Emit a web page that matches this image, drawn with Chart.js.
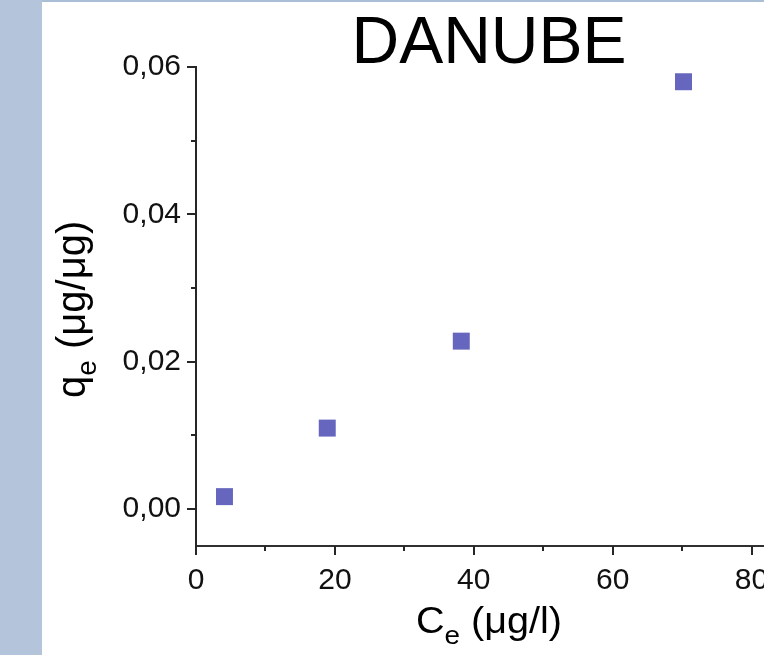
<!DOCTYPE html>
<html>
<head>
<meta charset="utf-8">
<script src="https://cdn.jsdelivr.net/npm/chart.js@4.4.0/dist/chart.umd.min.js"></script>
<style>
    html, body { margin: 0; padding: 0; background: #fff; width: 764px; height: 655px; overflow: hidden; }
    #franja { position: absolute; left: 0; top: 0; width: 42px; height: 655px; background: #b4c4da; }
    #lineaSuperior { position: absolute; left: 42px; top: 0; width: 722px; height: 2px; background: #aabed6; }
    canvas { position: absolute; left: 0; top: 0; }
</style>
</head>
<body>
<div id="franja"></div>
<div id="lineaSuperior"></div>
<canvas id="danubeChart" width="838" height="655"></canvas>
<script>
// Datos (Ce en µg/l, qe en µg/µg)
const concentraciones = [4.1, 18.9, 38.2, 70.2];
const adsorcion = [0.0017, 0.0110, 0.0228, 0.0580];

// Etiquetas visibles de los ejes
const etiquetasX = [0, 20, 40, 60, 80];
const etiquetasY = [0.00, 0.02, 0.04, 0.06];

const tituloGrafico = 'DANUBE';
const fuente = "'Liberation Sans', Arial, sans-serif";

const esEtiqueta = (lista, v) => lista.some(t => Math.abs(t - v) < 1e-9);

// Dibuja texto con un estiramiento horizontal opcional
function textoEstirado(ctx, texto, x, y, tam, sx, align) {
    ctx.save();
    ctx.font = `${tam}px ${fuente}`;
    ctx.textAlign = align || 'left';
    ctx.textBaseline = 'alphabetic';
    ctx.translate(x, y);
    ctx.scale(sx, 1);
    ctx.fillText(texto, 0, 0);
    const ancho = ctx.measureText(texto).width * sx;
    ctx.restore();
    return ancho;
}

// Marcas de los ejes (mayores y menores) hacia afuera
const marcasEjes = {
    id: 'marcasEjes',
    afterDraw(chart) {
        const { ctx, chartArea, scales: { x, y } } = chart;
        ctx.save();
        ctx.strokeStyle = '#262626';
        ctx.lineWidth = 2;
        x.ticks.forEach(t => {
            const paso = t.value / 10;
            if (Math.abs(paso - Math.round(paso)) > 1e-6) return;
            const mayor = Math.round(paso) % 2 === 0;
            const px = Math.round(x.getPixelForValue(t.value));
            ctx.beginPath();
            ctx.moveTo(px, chartArea.bottom);
            ctx.lineTo(px, chartArea.bottom + (mayor ? 9 : 5));
            ctx.stroke();
        });
        y.ticks.forEach(t => {
            const paso = t.value / 0.01;
            if (Math.abs(paso - Math.round(paso)) > 1e-6) return;
            const mayor = Math.round(paso) % 2 === 0;
            const py = Math.round(y.getPixelForValue(t.value));
            ctx.beginPath();
            ctx.moveTo(chartArea.left, py);
            ctx.lineTo(chartArea.left - (mayor ? 9 : 5), py);
            ctx.stroke();
        });
        ctx.restore();
    }
};

// Título y títulos de ejes con subíndices
const textos = {
    id: 'textos',
    afterDraw(chart) {
        const ctx = chart.ctx;
        ctx.save();
        ctx.fillStyle = '#000';

        // Título
        textoEstirado(ctx, tituloGrafico, 489, 63, 66, 1, 'center');

        // Eje X: C_e (µg/l)
        let xx = 416;
        xx += textoEstirado(ctx, 'C', xx, 633, 37, 1.07);
        xx += textoEstirado(ctx, 'e', xx, 644, 26, 1.07);
        textoEstirado(ctx, ' (\u03bcg/l)', xx, 633, 37, 1.07);

        // Eje Y: q_e (µg/µg), girado
        ctx.save();
        ctx.translate(85, 398);
        ctx.rotate(-Math.PI / 2);
        let yy = 0;
        yy += textoEstirado(ctx, 'q', yy, 0, 40, 1);
        yy += textoEstirado(ctx, 'e', yy, 11, 28, 1);
        textoEstirado(ctx, ' (\u03bcg/\u03bcg)', yy, 0, 40, 1);
        ctx.restore();

        ctx.restore();
    }
};

const ctx = document.getElementById('danubeChart').getContext('2d');
const danubeChart = new Chart(ctx, {
    type: 'scatter',
    data: {
        datasets: [{
            label: 'Danube',
            data: concentraciones.map((c, i) => ({ x: c, y: adsorcion[i] })),
            pointStyle: 'rect',
            pointRadius: 12,
            pointHoverRadius: 12,
            backgroundColor: '#6666bf',
            borderColor: '#6666bf',
            borderWidth: 0
        }]
    },
    options: {
        responsive: false,
        animation: false,
        layout: { padding: { top: 67, left: 0, right: 10, bottom: 0 } },
        plugins: {
            legend: { display: false },
            tooltip: { enabled: false }
        },
        scales: {
            x: {
                type: 'linear',
                min: 0,
                max: 90,
                afterFit: s => { s.height = 109; },
                grid: { display: false, drawTicks: false },
                border: { display: true, color: '#303030', width: 2 },
                ticks: {
                    stepSize: 10,
                    padding: 17,
                    color: '#111',
                    font: { family: fuente, size: 30 },
                    maxRotation: 0,
                    autoSkip: false,
                    callback: v => esEtiqueta(etiquetasX, v) ? String(v) : ''
                }
            },
            y: {
                type: 'linear',
                min: -0.005,
                max: 0.06,
                afterFit: s => { s.width = 196; },
                grid: { display: false, drawTicks: false },
                border: { display: true, color: '#262626', width: 2 },
                ticks: {
                    stepSize: 0.01,
                    padding: 15,
                    color: '#111',
                    font: { family: fuente, size: 30 },
                    autoSkip: false,
                    callback: v => esEtiqueta(etiquetasY, v) ? v.toFixed(2).replace('.', ',') : ''
                }
            }
        }
    },
    plugins: [marcasEjes, textos]
});
</script>
</body>
</html>
